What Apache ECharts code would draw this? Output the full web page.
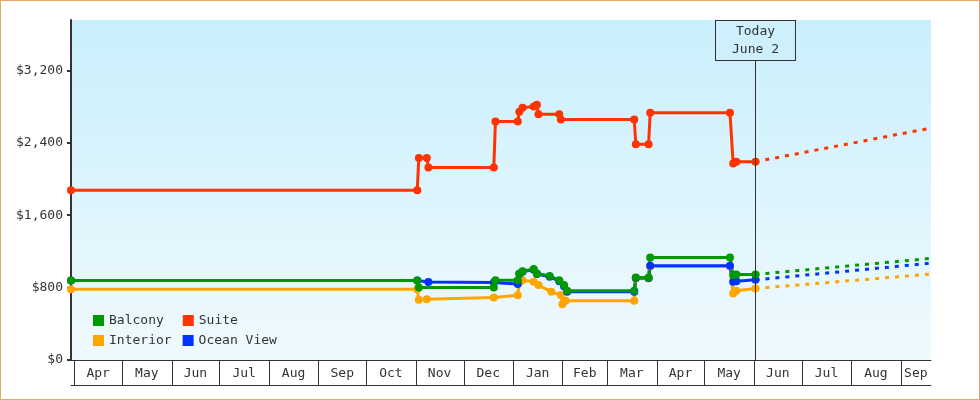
<!DOCTYPE html>
<html>
<head>
<meta charset="utf-8">
<script src="https://cdn.jsdelivr.net/npm/echarts@6/dist/echarts.min.js"></script>
<style>
  html, body { margin: 0; padding: 0; background: #fff; }
  #wrap { position: relative; width: 980px; height: 400px; }
  #chart { width: 980px; height: 400px; }
  #frame { position: absolute; left: 0; top: 0; width: 980px; height: 400px; box-sizing: border-box; border: 1px solid #e8a862; pointer-events: none; }
</style>
</head>
<body>
<div id="wrap"><div id="chart"></div><div id="frame"></div></div>
<script>
var FONT = '"DejaVu Sans Mono", "Liberation Mono", monospace';

// price history, [date, price]
var balcony = [
  ['2014-03-30', 879], ['2014-11-02', 879], ['2014-11-03', 800], ['2014-12-20', 800],
  ['2014-12-21', 880], ['2015-01-04', 880], ['2015-01-05', 955], ['2015-01-07', 980],
  ['2015-01-14', 1004], ['2015-01-16', 956], ['2015-01-24', 927], ['2015-01-30', 882],
  ['2015-02-02', 827], ['2015-02-04', 765], ['2015-03-18', 765], ['2015-03-19', 912],
  ['2015-03-27', 912], ['2015-03-28', 1133], ['2015-05-17', 1133], ['2015-05-19', 940],
  ['2015-05-21', 945], ['2015-06-02', 945]
];
var suite = [
  ['2014-03-30', 1875], ['2014-11-02', 1875], ['2014-11-03', 2230], ['2014-11-08', 2230],
  ['2014-11-09', 2125], ['2014-12-20', 2125], ['2014-12-21', 2633], ['2015-01-04', 2633],
  ['2015-01-05', 2741], ['2015-01-07', 2785], ['2015-01-14', 2800], ['2015-01-16', 2820],
  ['2015-01-17', 2713], ['2015-01-30', 2713], ['2015-01-31', 2655], ['2015-03-18', 2655],
  ['2015-03-19', 2383], ['2015-03-27', 2383], ['2015-03-28', 2732], ['2015-05-17', 2732],
  ['2015-05-19', 2170], ['2015-05-21', 2190], ['2015-06-02', 2190]
];
var interior = [
  ['2014-03-30', 780], ['2014-11-02', 780], ['2014-11-03', 665], ['2014-11-08', 672],
  ['2014-12-20', 690], ['2015-01-04', 715], ['2015-01-05', 860], ['2015-01-07', 880],
  ['2015-01-14', 864], ['2015-01-17', 827], ['2015-01-25', 753], ['2015-01-31', 717],
  ['2015-02-01', 615], ['2015-02-03', 655], ['2015-03-18', 655], ['2015-03-19', 900],
  ['2015-03-27', 900], ['2015-03-28', 1035], ['2015-05-17', 1035], ['2015-05-19', 735],
  ['2015-05-21', 765], ['2015-06-02', 790]
];
var oceanView = [
  ['2014-03-30', 879], ['2014-11-02', 879], ['2014-11-09', 862], ['2014-12-20', 855],
  ['2015-01-04', 840], ['2015-01-05', 950], ['2015-01-07', 975], ['2015-01-14', 998],
  ['2015-01-16', 950], ['2015-01-24', 920], ['2015-01-30', 870], ['2015-02-02', 815],
  ['2015-02-04', 755], ['2015-03-18', 755], ['2015-03-19', 905], ['2015-03-27', 905],
  ['2015-03-28', 1040], ['2015-05-17', 1040], ['2015-05-19', 865], ['2015-05-21', 870],
  ['2015-06-02', 885]
];

// projected price at end of range
var projEnd = { 'Balcony': 1122, 'Suite': 2562, 'Interior': 949, 'Ocean View': 1070 };

var today = '2015-06-02';
var startDate = '2014-03-30';
var endDate = '2015-09-20';

var monthLabels = ['Apr', 'May', 'Jun', 'Jul', 'Aug', 'Sep', 'Oct', 'Nov', 'Dec',
                   'Jan', 'Feb', 'Mar', 'Apr', 'May', 'Jun', 'Jul', 'Aug', 'Sep'];
var monthStarts = ['2014-04-01', '2014-05-01', '2014-06-01', '2014-07-01', '2014-08-01', '2014-09-01',
                   '2014-10-01', '2014-11-01', '2014-12-01', '2015-01-01', '2015-02-01', '2015-03-01',
                   '2015-04-01', '2015-05-01', '2015-06-01', '2015-07-01', '2015-08-01', '2015-09-01'];

var yTicks = [0, 800, 1600, 2400, 3200];

function t(s) {
  var p = s.split('-');
  return new Date(+p[0], p[1] - 1, +p[2]).getTime();
}
function pts(arr) {
  return arr.map(function (d) { return [t(d[0]), d[1]]; });
}
function money(v) {
  return '$' + String(v).replace(/\B(?=(\d{3})+(?!\d))/g, ',');
}

var colors = { 'Balcony': '#009900', 'Suite': '#ff3300', 'Interior': '#ffa500', 'Ocean View': '#0033ff' };

var hist = [
  ['Interior', interior],
  ['Ocean View', oceanView],
  ['Balcony', balcony],
  ['Suite', suite]
];

var series = [];
hist.forEach(function (h) {
  var name = h[0], data = h[1];
  var last = data[data.length - 1][1];
  series.push({
    name: name,
    type: 'line',
    xAxisIndex: 0, yAxisIndex: 0,
    data: [[t(today), last], [t(endDate), projEnd[name]]],
    showSymbol: false,
    symbol: 'none',
    lineStyle: { color: colors[name], width: 3, type: [4, 6] },
    itemStyle: { color: colors[name] },
    silent: true
  });
});
hist.forEach(function (h) {
  series.push({
    name: h[0],
    type: 'line',
    xAxisIndex: 0, yAxisIndex: 0,
    data: pts(h[1]),
    symbol: 'circle',
    symbolSize: 8,
    showAllSymbol: true,
    lineStyle: { color: colors[h[0]], width: 3 },
    itemStyle: { color: colors[h[0]] },
    silent: true
  });
});

// today marker
series[series.length - 1].markLine = {
  silent: true,
  symbol: ['none', 'none'],
  animation: false,
  lineStyle: { color: '#333', width: 1, type: 'solid' },
  label: {
    show: true,
    position: 'end',
    distance: 0,
    formatter: 'Today\nJune 2',
    fontFamily: FONT,
    fontSize: 13,
    color: '#333',
    lineHeight: 18,
    align: 'center',
    backgroundColor: '#cdf0fc',
    borderColor: '#333',
    borderWidth: 1,
    padding: [2, 16, 1, 16]
  },
  data: [[{ coord: [t(today), 0] }, { coord: [t(today), 3314] }]]
};

// month band under the plot
var monthData = monthStarts.map(function (s, i) {
  var e = i + 1 < monthStarts.length ? monthStarts[i + 1] : endDate;
  return [t(s), t(e), 0.5];
});
series.push({
  type: 'custom',
  xAxisIndex: 1, yAxisIndex: 1,
  silent: true,
  clip: false,
  data: monthData,
  renderItem: function (params, api) {
    var cs = params.coordSys;
    var p0 = api.coord([api.value(0), 0.5]);
    var p1 = api.coord([api.value(1), 0.5]);
    var x0 = Math.max(p0[0], cs.x), x1 = Math.min(p1[0], cs.x + cs.width);
    var lx = Math.round(p0[0]) + 0.5;
    return {
      type: 'group',
      children: [
        { type: 'line', shape: { x1: lx, y1: cs.y, x2: lx, y2: cs.y + cs.height },
          style: { stroke: '#333', lineWidth: 1 } },
        { type: 'text', x: (x0 + x1) / 2, y: cs.y + cs.height / 2 + 1,
          style: { text: monthLabels[params.dataIndex], fill: '#333', font: '13px ' + FONT,
                   align: 'center', verticalAlign: 'middle' } }
      ]
    };
  }
});

var legendBase = {
  left: 93,
  padding: 0,
  icon: 'rect',
  itemWidth: 11,
  itemHeight: 11,
  selectedMode: false,
  textStyle: { fontFamily: FONT, fontSize: 13, color: '#333' }
};

var chart = echarts.init(document.getElementById('chart'), null, { renderer: 'canvas' });
chart.setOption({
  animation: false,
  backgroundColor: 'transparent',
  legend: [
    Object.assign({}, legendBase, { top: 314, itemGap: 19, data: ['Balcony', 'Suite'] }),
    Object.assign({}, legendBase, { top: 334, itemGap: 11, data: ['Interior', 'Ocean View'] })
  ],
  grid: [
    {
      left: 71, right: 49, top: 20, bottom: 40,
      show: true, borderWidth: 0,
      backgroundColor: new echarts.graphic.LinearGradient(0, 0, 0, 1, [
        { offset: 0, color: '#c9effc' },
        { offset: 1, color: '#f0fafe' }
      ])
    },
    { left: 71, right: 49, top: 360, height: 25, show: false }
  ],
  xAxis: [
    {
      type: 'time', gridIndex: 0, min: t(startDate), max: t(endDate),
      axisLine: { show: true, onZero: false, lineStyle: { color: '#333', width: 1 } },
      axisTick: { show: false }, axisLabel: { show: false }, splitLine: { show: false }
    },
    {
      type: 'time', gridIndex: 1, min: t(startDate), max: t(endDate),
      axisLine: { show: true, onZero: false, lineStyle: { color: '#333', width: 1 } },
      axisTick: { show: false }, axisLabel: { show: false }, splitLine: { show: false }
    }
  ],
  yAxis: [
    {
      type: 'value', gridIndex: 0, min: 0, max: 3755, interval: 800,
      axisLine: { show: true, lineStyle: { color: '#333', width: 2 } },
      axisTick: { show: true, length: 4, customValues: yTicks, lineStyle: { color: '#333', width: 2 } },
      axisLabel: { customValues: yTicks, formatter: money, fontFamily: FONT, fontSize: 13, color: '#333', margin: 8 },
      splitLine: { show: false }
    },
    {
      type: 'value', gridIndex: 1, min: 0, max: 1, show: false
    }
  ],
  series: series
});
</script>
</body>
</html>
